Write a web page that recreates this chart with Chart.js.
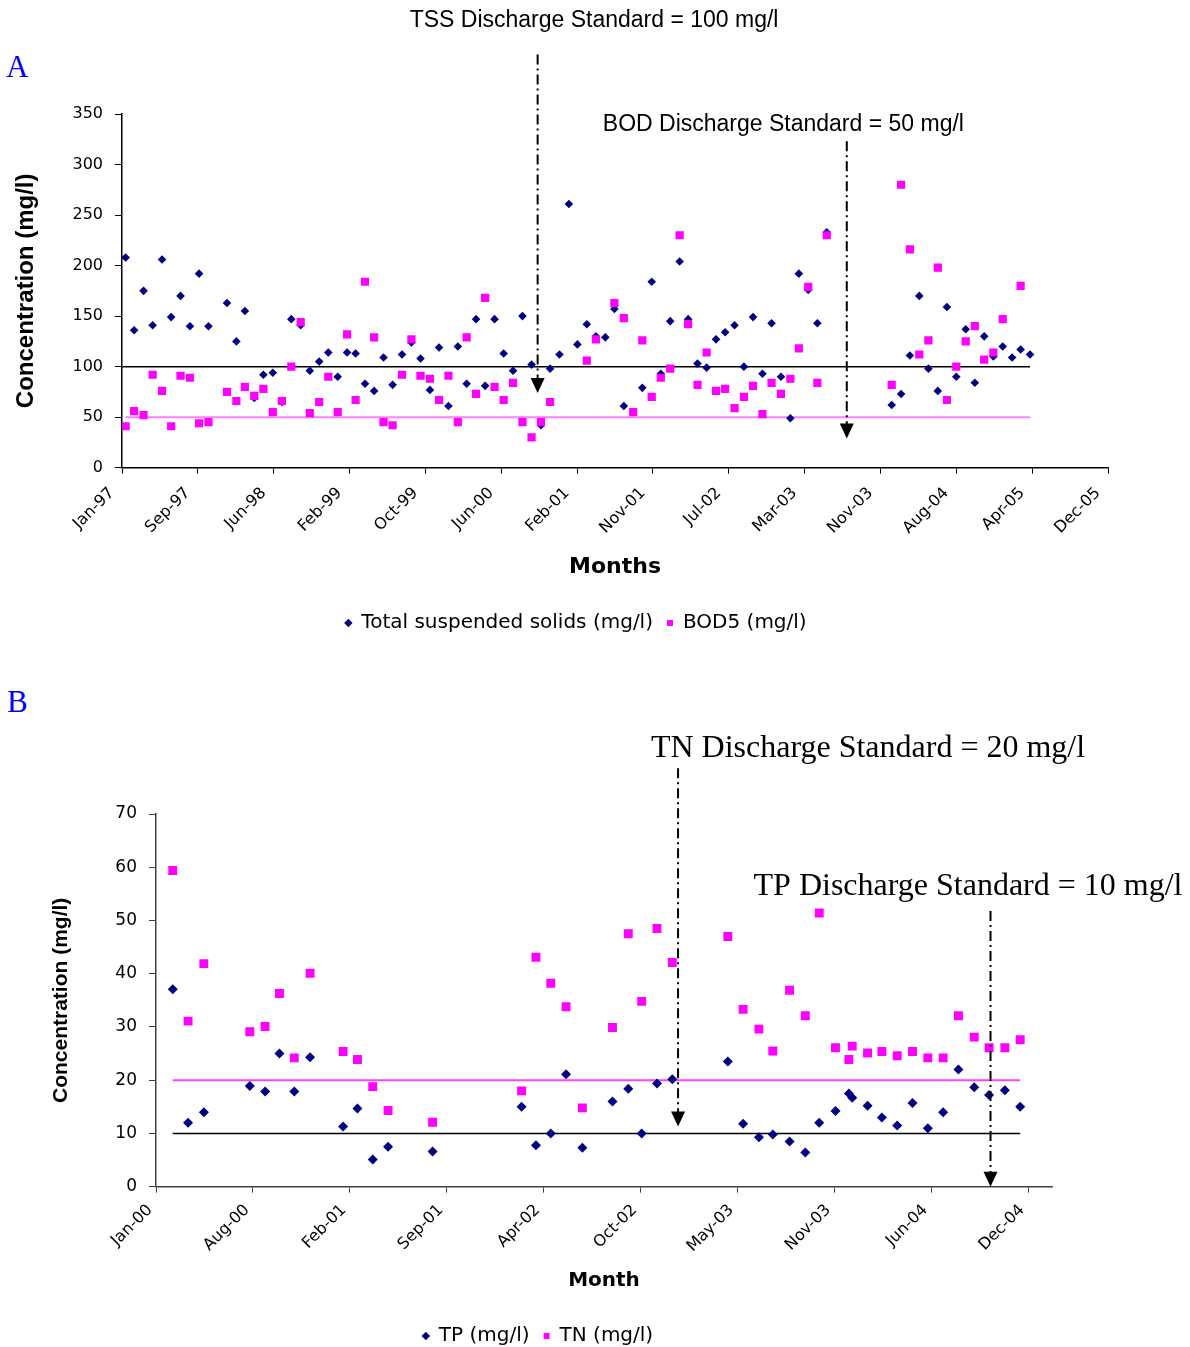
<!DOCTYPE html>
<html>
<head>
<meta charset="utf-8">
<title>Effluent concentrations</title>
<script src="https://cdn.jsdelivr.net/npm/chart.js@4.4.1/dist/chart.umd.min.js"></script>
<style>
  html, body { margin: 0; padding: 0; background: #fff; overflow: hidden; }
  #page { position: relative; width: 1190px; height: 1347px; }
  canvas { position: absolute; left: 0; }
  #chartA { top: 0; }
  #chartB { top: 640px; }
  .panel { position: absolute; font-family: 'Liberation Serif', serif; font-size: 31px; line-height: 1; color: #0000ff; }
</style>
</head>
<body>
<div id="page">
  <div class="panel" style="left:6px;top:51px">A</div>
  <div class="panel" style="left:7px;top:686px">B</div>
  <canvas id="chartA" width="1190" height="650"></canvas>
  <canvas id="chartB" width="1190" height="720"></canvas>
</div>
<script>
// ---- Panel A: monthly TSS / BOD5, Feb-97 .. Apr-05 (null = no sample) ----
const tssValues = [208, 136, 175, 141, 206, 149, 170, 140, 192, 140, null,
  163, 125, 155, 69, 92, 94, 65, 147, 141, 96, 105, 114, 90, 114, 113, 83, 76, 109, 82, 112, 124, 108, 77, 119,
  61, 120, 83, 147, 81, 147, 113, 96, 150, 102, 42, 98, 112, 261, 122, 142, 130, 129, 157, 61, null,
  79, 184, 93, 145, 204, 147, 103, 99, 127, 134, 141, 100, 149, 93, 143, 90, 49, 192, 176, 143, 233,
  null, null, null, null, null, null,
  62, 73, 111, 170, 98, 76, 159, 90, 137, 84, 130, 110, 120, 109, 117, 112];
const bodValues = [41, 56, 52, 92, 76, 41, 91, 89, 44, 45, null,
  75, 66, 80, 71, 78, 55, 66, 100, 144, 54, 65, 90, 55, 132, 67, 184, 129, 45, 42, 92, 127, 91, 88, 67,
  91, 45, 129, 73, 168, 80, 67, 84, 45, 30, 45, 65, null, null, null, 106, 127, null,
  163, 148, 55, 126, 70, 89, 98, 230, 142, 82, 114, 76, 78, 59, 70, 81, 53, 84, 73, 88, 118, 179, 84, 230,
  null, null, null, null, null, null,
  82, 280, 216, 112, 126, 198, 67, 100, 125, 140, 107, 114, 147, null, 180, null];
const tickLabelsA = ['Jan-97', 'Sep-97', 'Jun-98', 'Feb-99', 'Oct-99', 'Jun-00', 'Feb-01',
  'Nov-01', 'Jul-02', 'Mar-03', 'Nov-03', 'Aug-04', 'Apr-05', 'Dec-05'];
const tssStandard = 100;
const bodStandard = 50;

// ---- Panel B: TP / TN samples, x = days after 1 Jan 2000 ----
const sampleDaysB = [45, 77, 110, 206, 238, 268, 299, 332, 401, 431, 463, 495, 588,
  774, 804, 835, 867, 901, 964, 997, 1025, 1057, 1089,
  1205, 1237, 1270, 1299, 1334, 1367, 1396, 1430, 1458, 1465, 1497, 1527, 1559, 1591,
  1623, 1655, 1687, 1720, 1751, 1784, 1816];
const tpValues = [37.1, 12.0, 14.0, 18.9, 17.9, 25.0, 17.9, 24.3, 11.3, 14.7, 5.1, 7.5, 6.6,
  15.0, 7.8, 10.0, 21.1, 7.3, 16.0, 18.4, 10.0, 19.4, 20.2,
  23.5, 11.8, 9.3, 9.8, 8.5, 6.4, 12.0, 14.2, 17.5, 16.7, 15.2, 13.0, 11.5, 15.7,
  11.0, 14.0, 22.0, 18.7, 17.2, 18.1, 15.0];
const tnValues = [59.4, 31.1, 41.9, 29.1, 30.1, 36.3, 24.2, 40.1, 25.4, 23.9, 18.8, 14.3, 12.1,
  18.0, 43.1, 38.2, 33.8, 14.8, 29.9, 47.5, 34.8, 48.5, 42.1,
  47.0, 33.3, 29.6, 25.5, 36.9, 32.1, 51.4, 26.1, 23.9, 26.4, 25.1, 25.4, 24.6, 25.4,
  24.2, 24.2, 32.1, 28.1, 26.1, 26.1, 27.6];
const tickLabelsB = ['Jan-00', 'Aug-00', 'Feb-01', 'Sep-01', 'Apr-02', 'Oct-02',
  'May-03', 'Nov-03', 'Jun-04', 'Dec-04'];
const tpStandard = 10;
const tnStandard = 20;

// arrows marking where each discharge standard applies (x in days, y in mg/l)
const arrowsA = [
  { x: 1389, from: 409, to: 74, text: 'TSS Discharge Standard = 100 mg/l', textX: 1575, textY: 442 },
  { x: 2408, from: 323, to: 29, text: 'BOD Discharge Standard = 50 mg/l', textX: 2199, textY: 339 }
];
const arrowsB = [
  { x: 1101, from: 78.6, to: 11.3, text: 'TN Discharge Standard = 20 mg/l', textX: 1498, textY: 82.2 },
  { x: 1754, from: 51.8, to: 0, text: 'TP Discharge Standard = 10 mg/l', textX: 1707, textY: 56.3 }
];

Chart.defaults.font.family = 'DejaVu Sans';
Chart.defaults.color = '#000';

// day number (from 1 Jan 1997) of the first of month m, m = 0 for Jan-97
function monthDay(m) {
  return (Date.UTC(1997, m, 1) - Date.UTC(1997, 0, 1)) / 864e5;
}
function monthlyPoints(values) {
  const pts = [];
  values.forEach((v, i) => { if (v !== null) pts.push({ x: monthDay(i + 1), y: v }); });
  return pts;
}

const standardArrows = {
  id: 'standardArrows',
  afterDraw(chart, args, opts) {
    const { ctx } = chart;
    const xs = chart.scales.x, ys = chart.scales.y;
    ctx.save();
    opts.items.forEach((a) => {
      const px = xs.getPixelForValue(a.x);
      const top = ys.getPixelForValue(a.from);
      const tip = ys.getPixelForValue(a.to);
      ctx.strokeStyle = '#000';
      ctx.lineWidth = 2;
      ctx.setLineDash([10, 4, 2, 4]);
      ctx.beginPath();
      ctx.moveTo(px, top);
      ctx.lineTo(px, tip - 14);
      ctx.stroke();
      ctx.setLineDash([]);
      ctx.fillStyle = '#000';
      ctx.beginPath();
      ctx.moveTo(px - 7, tip - 15);
      ctx.lineTo(px + 7, tip - 15);
      ctx.lineTo(px, tip);
      ctx.closePath();
      ctx.fill();
      ctx.font = opts.font;
      ctx.textAlign = 'center';
      ctx.textBaseline = 'middle';
      ctx.fillText(a.text, xs.getPixelForValue(a.textX), ys.getPixelForValue(a.textY));
    });
    ctx.restore();
  }
};

function axisLook(tickLength, color) {
  return {
    grid: { drawOnChartArea: false, drawTicks: true, tickLength: tickLength, color: color, lineWidth: 1 },
    border: { color: color, width: 1.5 }
  };
}

function legendLook() {
  return {
    position: 'bottom',
    labels: {
      usePointStyle: true, boxWidth: 6, boxHeight: 6, padding: 14,
      font: { family: 'DejaVu Sans', size: 20 },
      filter: (item) => item.datasetIndex < 2,
      sort: (a, b) => a.datasetIndex - b.datasetIndex
    }
  };
}

// Panel A
new Chart(document.getElementById('chartA'), {
  type: 'scatter',
  data: {
    datasets: [
      { label: 'Total suspended solids (mg/l)', data: monthlyPoints(tssValues), pointStyle: 'rectRot',
        pointRadius: 4.3, backgroundColor: '#000080', borderColor: '#000080', borderWidth: 0, order: 2 },
      { label: 'BOD5 (mg/l)', data: monthlyPoints(bodValues), pointStyle: 'rect',
        pointRadius: 5.8, backgroundColor: '#ff00ff', borderColor: '#ff00ff', borderWidth: 0, order: 1 },
      { label: 'TSS standard', data: [{ x: monthDay(0), y: tssStandard }, { x: monthDay(99), y: tssStandard }],
        showLine: true, borderColor: '#000', borderWidth: 1.5, pointRadius: 0, order: 3 },
      { label: 'BOD standard', data: [{ x: monthDay(1), y: bodStandard }, { x: monthDay(99), y: bodStandard }],
        showLine: true, borderColor: '#ff80ff', borderWidth: 2, pointRadius: 0, order: 3 }
    ]
  },
  options: {
    responsive: false,
    animation: false,
    devicePixelRatio: 1,
    events: [],
    layout: { padding: { top: 114, left: 44, right: 82, bottom: 7 } },
    plugins: {
      tooltip: { enabled: false },
      legend: legendLook(),
      standardArrows: { items: arrowsA, font: '23px "Liberation Sans"' }
    },
    scales: {
      x: {
        type: 'linear', min: 19, max: 19 + 250 * 13,
        afterBuildTicks: (s) => { s.ticks = tickLabelsA.map((_, k) => ({ value: 19 + 250 * k })); },
        afterFit: (s) => { s.height = 131.3; },
        ticks: { autoSkip: false, minRotation: 45, maxRotation: 45, padding: 10, labelOffset: -10,
          font: { size: 16 }, callback: (v, i) => tickLabelsA[i] },
        ...axisLook(6, '#000'),
        title: { display: true, text: 'Months', font: { size: 22, weight: 'bold' }, padding: { top: 0, bottom: 18.8 } }
      },
      y: {
        min: 0, max: 350,
        afterFit: (s) => { s.width = 78; },
        ticks: { stepSize: 50, padding: 12, font: { size: 16 } },
        ...axisLook(7, '#000'),
        title: { display: true, text: 'Concentration (mg/l)', font: { family: 'Liberation Sans', size: 24, weight: 'bold' },
          padding: { top: -32.4, bottom: 0 } }
      }
    }
  },
  plugins: [standardArrows]
});

// Panel B
new Chart(document.getElementById('chartB'), {
  type: 'scatter',
  data: {
    datasets: [
      { label: 'TP (mg/l)', data: sampleDaysB.map((d, i) => ({ x: d, y: tpValues[i] })), pointStyle: 'rectRot',
        pointRadius: 5, backgroundColor: '#000080', borderColor: '#000080', borderWidth: 0, order: 2 },
      { label: 'TN (mg/l)', data: sampleDaysB.map((d, i) => ({ x: d, y: tnValues[i] })), pointStyle: 'rect',
        pointRadius: 6.3, backgroundColor: '#ff00ff', borderColor: '#ff00ff', borderWidth: 0, order: 1 },
      { label: 'TP standard', data: [{ x: sampleDaysB[0], y: tpStandard }, { x: sampleDaysB[sampleDaysB.length - 1], y: tpStandard }],
        showLine: true, borderColor: '#000', borderWidth: 1.5, pointRadius: 0, order: 3 },
      { label: 'TN standard', data: [{ x: sampleDaysB[0], y: tnStandard }, { x: sampleDaysB[sampleDaysB.length - 1], y: tnStandard }],
        showLine: true, borderColor: '#ff40ff', borderWidth: 2, pointRadius: 0, order: 3 }
    ]
  },
  options: {
    responsive: false,
    animation: false,
    devicePixelRatio: 1,
    events: [],
    layout: { padding: { top: 174, left: 24, right: 138, bottom: 4 } },
    plugins: {
      tooltip: { enabled: false },
      legend: legendLook(),
      standardArrows: { items: arrowsB, font: '32px "Liberation Serif"' }
    },
    scales: {
      x: {
        type: 'linear', min: 10, max: 1882.5,
        afterBuildTicks: (s) => { s.ticks = tickLabelsB.map((_, k) => ({ value: 10 + 202.5 * k })); },
        afterFit: (s) => { s.height = 125.3; },
        ticks: { autoSkip: false, minRotation: 45, maxRotation: 45, padding: 8, labelOffset: -6,
          font: { size: 16 }, callback: (v, i) => tickLabelsB[i] },
        ...axisLook(6, '#404040'),
        title: { display: true, text: 'Month', font: { size: 20, weight: 'bold' }, padding: { top: 0, bottom: 19 } }
      },
      y: {
        min: 0, max: 70,
        afterFit: (s) => { s.width = 132; },
        ticks: { stepSize: 10, padding: 12, font: { size: 17 } },
        ...axisLook(7, '#404040'),
        title: { display: true, text: 'Concentration (mg/l)', font: { family: 'Liberation Sans', size: 21, weight: 'bold' },
          padding: { top: 25.1, bottom: 0 } }
      }
    }
  },
  plugins: [standardArrows]
});
</script>
</body>
</html>
